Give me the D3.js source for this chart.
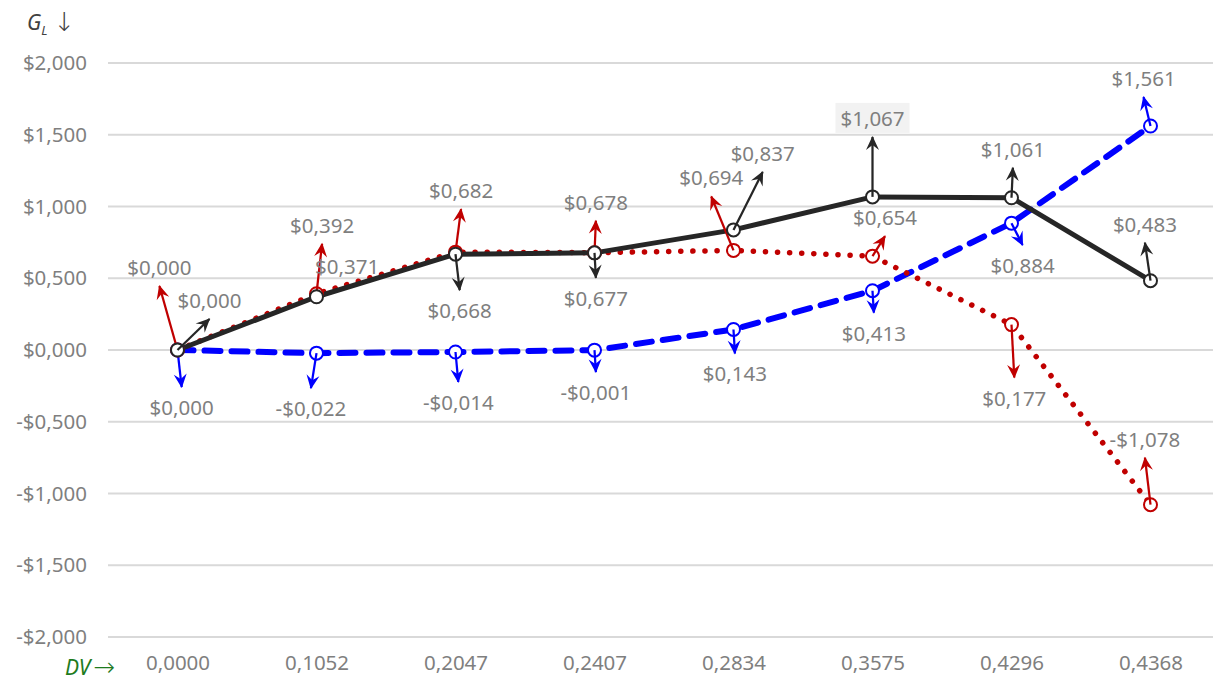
<!DOCTYPE html>
<html>
<head>
<meta charset="utf-8">
<script src="https://cdn.jsdelivr.net/npm/d3@7"></script>
<style>
  html, body { margin: 0; padding: 0; background: #ffffff; }
  svg { display: block; font-family: "Noto Sans", "Open Sans", sans-serif; }
</style>
</head>
<body>
<svg id="chart" width="1215" height="681"></svg>
<script>
// Discount-variable steps (category axis)
const categories = ["0,0000", "0,1052", "0,2047", "0,2407", "0,2834", "0,3575", "0,4296", "0,4368"];

// Gain G_L for each series
const blackValues = [0.000, 0.371, 0.668, 0.677, 0.837, 1.067, 1.061, 0.483];
const redValues   = [0.000, 0.392, 0.682, 0.678, 0.694, 0.654, 0.177, -1.078];
const blueValues  = [0.000, -0.022, -0.014, -0.001, 0.143, 0.413, 0.884, 1.561];

// Direction vectors at each point: dx in category steps, dy in G_L units
const blackArrowDx = [0.23, 0.22, 0.03, 0.01, 0.21, 0.00, 0.01, -0.04];
const blackArrowDy = [0.216, 0.084, -0.251, -0.174, 0.404, 0.418, 0.209, 0.265];
const blackArrowShown = [true, false, true, true, true, true, true, true];

const redArrowDx = [-0.13, 0.04, 0.04, 0.01, -0.16, 0.09, 0.02, -0.04];
const redArrowDy = [0.446, 0.348, 0.300, 0.223, 0.376, 0.139, -0.369, 0.328];

const blueArrowDx = [0.03, -0.04, 0.02, 0.01, 0.01, 0.01, 0.08, -0.05];
const blueArrowDy = [-0.258, -0.244, -0.209, -0.153, -0.167, -0.153, -0.153, 0.202];

// Value axis ticks
const yTicks = [-2, -1.5, -1, -0.5, 0, 0.5, 1, 1.5, 2];

// Highlighted label (series, index)
const highlighted = [["black", 5]];

const svg = d3.select("#chart");
const FS = "20.5px";

const x = d3.scalePoint().domain(categories).range([108, 1220]).padding(0.5);
const step = x.step();
const y = d3.scaleLinear().domain([-2, 2]).range([637, 63]);

const fmt = v => {
  const s = Math.abs(v).toFixed(3).replace(".", ",");
  return (v < -0.0005 ? "-$" : "$") + s;
};

// Gridlines
svg.append("g")
  .selectAll("line")
  .data(yTicks)
  .join("line")
  .attr("x1", 108).attr("x2", 1213)
  .attr("y1", d => y(d)).attr("y2", d => y(d))
  .attr("stroke", "#d9d9d9").attr("stroke-width", 2);

// Y axis labels
const yAxis = d3.axisLeft(y).tickValues(yTicks).tickFormat(fmt).tickSize(0).tickPadding(0);
const gy = svg.append("g").attr("transform", "translate(87,0)").call(yAxis);
gy.select(".domain").remove();
gy.selectAll("text")
  .attr("fill", "#7f7f7f")
  .style("font-size", FS)
  .style("font-family", "'Noto Sans', 'Open Sans', sans-serif");

// X axis labels
const xAxis = d3.axisBottom(x).tickSize(0).tickPadding(0);
const gx = svg.append("g").attr("transform", "translate(0,655)").call(xAxis);
gx.select(".domain").remove();
gx.selectAll("text")
  .attr("fill", "#7f7f7f")
  .style("font-size", FS)
  .style("font-family", "'Noto Sans', 'Open Sans', sans-serif");

// Axis titles
const gTitle = svg.append("text")
  .attr("x", 27).attr("y", 30)
  .attr("fill", "#404040")
  .style("font-size", "21px");
gTitle.append("tspan").attr("font-style", "italic").text("G");
gTitle.append("tspan").attr("font-style", "italic").attr("dy", 5).style("font-size", "13px").text("L");
gTitle.append("tspan").attr("dy", -4).attr("dx", 6)
  .style("font-family", "'DejaVu Sans', sans-serif").style("font-weight", 300)
  .style("font-size", "26px").text("↓");

const dvTitle = svg.append("text")
  .attr("x", 65).attr("y", 675)
  .attr("fill", "#1e7b1e")
  .style("font-size", "21px");
dvTitle.append("tspan").attr("font-style", "italic").text("DV");
dvTitle.append("tspan").attr("dx", 3).attr("dy", 1)
  .style("font-family", "'DejaVu Sans', sans-serif").style("font-weight", 300)
  .style("font-size", "26px").text("→");

// Arrowhead markers
const defs = svg.append("defs");
const colors = { black: "#262626", red: "#c00000", blue: "#0000ff" };
Object.entries(colors).forEach(([k, c]) => {
  defs.append("marker")
    .attr("id", "arrow-" + k)
    .attr("viewBox", "-14 -7 16 14")
    .attr("refX", 0).attr("refY", 0)
    .attr("markerWidth", 16).attr("markerHeight", 14)
    .attr("markerUnits", "userSpaceOnUse")
    .attr("orient", "auto")
    .append("path")
    .attr("d", "M1,0 L-13,-6.5 L-8,0 L-13,6.5 Z")
    .attr("fill", c);
});

const series = [
  { key: "blue", values: blueValues, dx: blueArrowDx, dy: blueArrowDy, shown: blueValues.map(() => true),
    width: 6, dash: "16 11", cap: "round" },
  { key: "red", values: redValues, dx: redArrowDx, dy: redArrowDy, shown: redValues.map(() => true),
    width: 5.5, dash: "0.1 12", cap: "round" },
  { key: "black", values: blackValues, dx: blackArrowDx, dy: blackArrowDy, shown: blackArrowShown,
    width: 5, dash: null, cap: "butt" }
];

const line = d3.line().x((d, i) => x(categories[i])).y(d => y(d));

series.forEach(s => {
  const c = colors[s.key];
  svg.append("path")
    .datum(s.values)
    .attr("d", line)
    .attr("fill", "none")
    .attr("stroke", c)
    .attr("stroke-width", s.width)
    .attr("stroke-linecap", s.cap)
    .attr("stroke-linejoin", "round")
    .attr("stroke-dasharray", s.dash);
});

series.forEach(s => {
  const c = colors[s.key];
  const pts = s.values.map((v, i) => {
    const px = x(categories[i]), py = y(v);
    const tx = px + s.dx[i] * step, ty = y(v + s.dy[i]);
    return { v, i, px, py, tx, ty, up: s.dy[i] > 0 };
  });

  // markers
  svg.append("g").selectAll("circle")
    .data(pts).join("circle")
    .attr("cx", d => d.px).attr("cy", d => d.py).attr("r", 6.5)
    .attr("fill", "#ffffff").attr("stroke", c).attr("stroke-width", 2);

  // direction arrows
  svg.append("g").selectAll("line")
    .data(pts.filter(d => s.shown[d.i])).join("line")
    .attr("x1", d => d.px).attr("y1", d => d.py)
    .attr("x2", d => d.tx).attr("y2", d => d.ty)
    .attr("stroke", c).attr("stroke-width", 2.25)
    .attr("marker-end", `url(#arrow-${s.key})`);

  s.pts = pts;
});

// Value labels placed beyond arrow tips
series.forEach(s => {
  const g = svg.append("g");
  s.pts.forEach(d => {
    const lx = d.tx, ly = d.ty + (d.up ? -19 : 20);
    const isHi = highlighted.some(h => h[0] === s.key && h[1] === d.i);
    const t = g.append("text")
      .attr("x", lx).attr("y", ly)
      .attr("text-anchor", "middle")
      .attr("dominant-baseline", "central")
      .attr("fill", "#7f7f7f")
      .style("font-size", FS)
      .text(fmt(d.v));
    if (isHi) {
      const bb = t.node().getBBox();
      g.insert("rect", () => t.node())
        .attr("x", bb.x - 5).attr("y", bb.y - 1)
        .attr("width", bb.width + 10).attr("height", bb.height + 2)
        .attr("fill", "#f2f2f2");
    }
  });
});
</script>
</body>
</html>
